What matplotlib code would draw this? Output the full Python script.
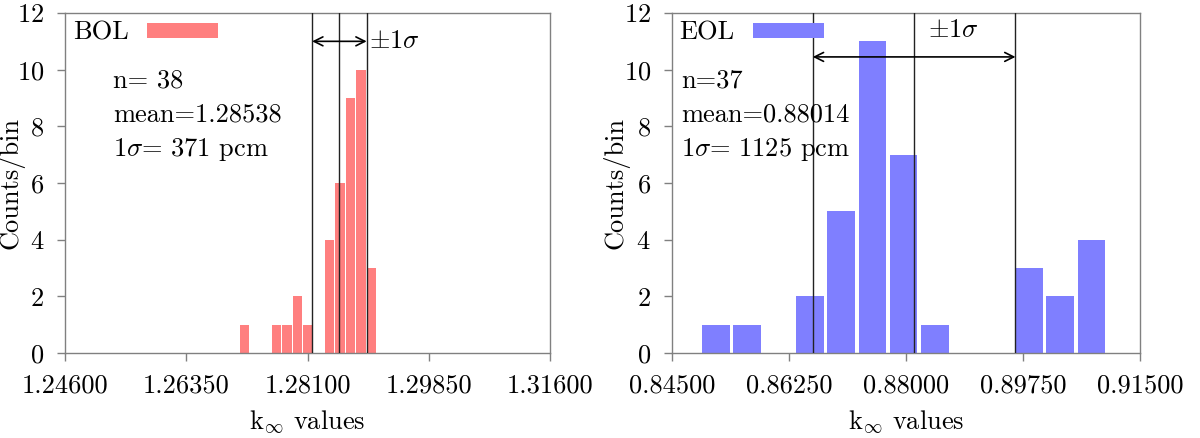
import matplotlib
matplotlib.use("Agg")
import matplotlib.pyplot as plt

plt.rcParams.update({
    'font.family': 'cmr10',
    'mathtext.fontset': 'cm',
    'axes.unicode_minus': False,
    'axes.formatter.use_mathtext': True,
    'font.size': 19,
})

# BOL histogram (bin centres / counts)
bol_centers = [1.27191, 1.27344, 1.27497, 1.27650, 1.27803, 1.27956, 1.28109,
               1.28262, 1.28415, 1.28568, 1.28721, 1.28874, 1.29027]
bol_counts = [1, 0, 0, 1, 1, 2, 1, 0, 4, 6, 9, 10, 3]
bol_lines = [1.28167, 1.28555, 1.28954]
bol_ticks = [1.24600, 1.26350, 1.28100, 1.29850, 1.31600]
bol_ticklabels = ["1.24600", "1.26350", "1.28100", "1.29850", "1.31600"]

# EOL histogram
eol_centers = [0.85160, 0.85628, 0.86096, 0.86564, 0.87032, 0.87500, 0.87968,
               0.88436, 0.88904, 0.89372, 0.89840, 0.90308, 0.90776]
eol_counts = [1, 1, 0, 2, 5, 11, 7, 1, 0, 0, 3, 2, 4]
eol_lines = [0.86609, 0.88128, 0.89639]
eol_ticks = [0.84500, 0.86250, 0.88000, 0.89750, 0.91500]
eol_ticklabels = ["0.84500", "0.86250", "0.88000", "0.89750", "0.91500"]

yticks = [0, 2, 4, 6, 8, 10, 12]

fig = plt.figure(figsize=(12, 4.38), dpi=100)
ax1 = fig.add_axes([65/1200, 85/438, 485/1200, 340/438])
ax2 = fig.add_axes([671.7/1200, 85/438, 468.3/1200, 340/438])


def panel(ax, centers, counts, pitch, color, label, lines, arrow_y, txt_xy,
          ticks, ticklabels, stats, stats_x, ylab_x):
    ax.bar(centers, counts, width=pitch*0.88, color=color, linewidth=0,
           label=label, zorder=2)
    for xv in lines:
        ax.axvline(xv, color='#222222', lw=1.0, zorder=3)
    ax.annotate('', xy=(lines[2], arrow_y), xytext=(lines[0], arrow_y),
                arrowprops=dict(arrowstyle='<->', lw=1.2, color='k',
                                shrinkA=0, shrinkB=0, mutation_scale=16),
                zorder=4)
    ax.text(txt_xy[0], txt_xy[1], r'$\pm 1\sigma$', va='center', ha='left')
    ax.set_xlim(ticks[0], ticks[-1])
    ax.set_ylim(0, 12)
    ax.set_xticks(ticks)
    ax.set_xticklabels(ticklabels)
    ax.set_yticks(yticks)
    ax.set_xlabel(r'k$_\infty$ values', labelpad=8)
    ax.set_ylabel('Counts/bin')
    ax.yaxis.set_label_coords(ylab_x, 0.5)
    ax.tick_params(direction='out', length=6, width=1, color='#808080', pad=9)
    for s in ax.spines.values():
        s.set_color('#808080')
        s.set_linewidth(1)
    for i, t in enumerate(stats):
        ax.text(stats_x, 0.781 - i*0.1005, t, transform=ax.transAxes,
                va='baseline', ha='left')
    ax.legend(loc='upper left', bbox_to_anchor=(0, 1), borderaxespad=0,
              borderpad=0.3, markerfirst=False, frameon=False,
              handlelength=2.7, handleheight=0.5, handletextpad=0.7)


panel(ax1, bol_centers, bol_counts, 0.00153, '#ff7f7f', 'BOL', bol_lines,
      11.0, (1.28990, 11.0), bol_ticks, bol_ticklabels,
      ['n= 38', 'mean=1.28538', r'1$\sigma$= 371 pcm'], 0.099, -0.083)
panel(ax2, eol_centers, eol_counts, 0.00468, '#7f7fff', 'EOL', eol_lines,
      10.45, (0.88330, 11.4), eol_ticks, eol_ticklabels,
      ['n=37', 'mean=0.88014', r'1$\sigma$= 1125 pcm'], 0.020, -0.090)

plt.savefig('out.png', dpi=100)
